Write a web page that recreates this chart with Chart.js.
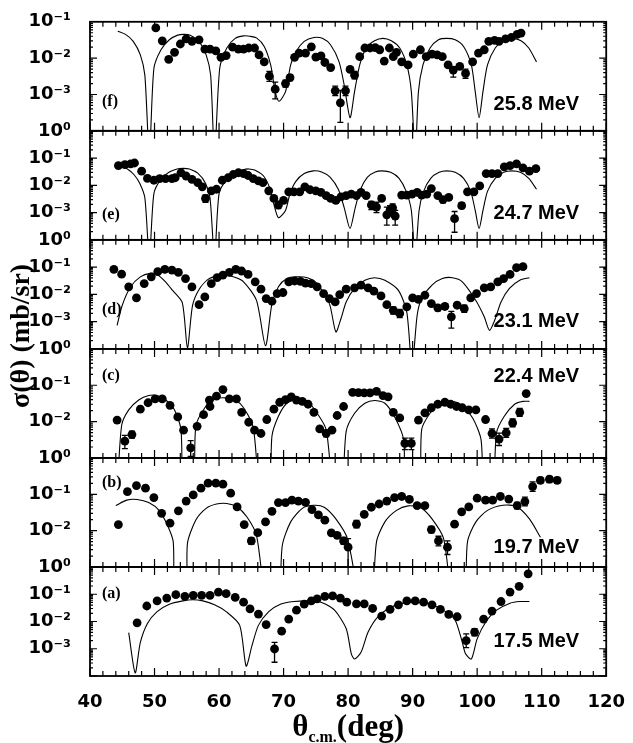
<!DOCTYPE html>
<html>
<head>
<meta charset="utf-8">
<script src="https://cdn.jsdelivr.net/npm/chart.js@4.4.0/dist/chart.umd.min.js"></script>
<style>
  html, body { margin: 0; padding: 0; background: #fff; }
</style>
</head>
<body>
<canvas id="crossSections" width="633" height="743"></canvas>
<script>
// ---- data: angle (deg, c.m.) and sigma (mb/sr) ----
const xTicks = [40, 50, 60, 70, 80, 90, 100, 110, 120];

// (f) 25.8 MeV
const anglesF = [50.2, 51.2, 52.2, 53.1, 54.0, 54.9, 55.8, 56.9, 57.8, 58.6, 59.5, 60.3, 61.1, 62.1, 63.0, 63.8, 64.6, 65.5, 66.2, 67.0, 67.8, 68.7, 70.3, 71.0, 71.7, 72.4, 73.4, 74.3, 75.0, 75.8, 76.4, 77.3, 78.0, 78.8, 79.6, 80.3, 81.0, 81.8, 82.6, 83.4, 84.2, 84.9, 85.6, 86.4, 87.0, 87.5, 88.3, 89.3, 90.1, 91.2, 92.1, 93.0, 93.8, 94.6, 95.5, 96.3, 97.3, 98.2, 99.3, 100.2, 101.1, 101.8, 102.7, 103.4, 104.4, 105.3, 106.2, 106.8];
const sigmaF = [0.068, 0.030, 0.0093, 0.0145, 0.0245, 0.034, 0.029, 0.032, 0.0178, 0.0178, 0.0158, 0.0105, 0.0118, 0.020, 0.0178, 0.0178, 0.019, 0.019, 0.0123, 0.0079, 0.0032, 0.0014, 0.0020, 0.0029, 0.0105, 0.0138, 0.0138, 0.0205, 0.0107, 0.0115, 0.0076, 0.0055, 0.00126, 0.00059, 0.00126, 0.0049, 0.0034, 0.011, 0.019, 0.019, 0.0195, 0.017, 0.0083, 0.019, 0.011, 0.0145, 0.0079, 0.0065, 0.0129, 0.017, 0.011, 0.0129, 0.0123, 0.011, 0.0065, 0.0047, 0.0059, 0.0038, 0.0079, 0.0138, 0.017, 0.029, 0.031, 0.029, 0.034, 0.037, 0.045, 0.049];
const errorsF = [[67.8, 0.0023, 0.0043], [68.7, 0.00076, 0.0022], [70.3, 0.0016, 0.0025], [71.0, 0.0024, 0.0035], [78.0, 0.00093, 0.0017], [78.8, 0.00017, 0.0013], [79.6, 0.00093, 0.0017], [81.0, 0.0027, 0.0043], [96.3, 0.0030, 0.0058], [98.2, 0.0028, 0.0050]];
const curveAnglesF = [44.3, 45.5, 46.7, 47.8, 48.5, 49.2, 49.9, 51.0, 52.3, 53.6, 54.6, 55.6, 56.9, 58.0, 58.7, 59.3, 60.1, 61.2, 62.5, 63.8, 64.8, 65.8, 67.0, 68.0, 68.7, 69.3, 70.3, 71.1, 71.9, 73.2, 74.7, 76.0, 77.3, 78.6, 79.4, 80.3, 81.0, 81.8, 82.8, 84.1, 85.4, 86.7, 88.0, 89.1, 89.8, 90.4, 90.9, 91.6, 92.7, 94.0, 95.3, 96.6, 97.9, 99.1, 99.7, 100.3, 100.9, 101.6, 102.8, 104.2, 105.5, 106.8, 108.0, 109.2];
const curveF = [0.055, 0.045, 0.029, 0.0123, 0.0034, 0.00002, 0.0052, 0.017, 0.032, 0.043, 0.045, 0.042, 0.029, 0.0123, 0.0034, 0.00002, 0.0052, 0.019, 0.035, 0.041, 0.040, 0.036, 0.021, 0.0065, 0.0012, 0.00065, 0.0012, 0.0065, 0.015, 0.029, 0.037, 0.035, 0.023, 0.0079, 0.0018, 0.00023, 0.0012, 0.0065, 0.019, 0.030, 0.035, 0.030, 0.019, 0.0065, 0.0012, 0.00002, 0.0012, 0.0065, 0.019, 0.032, 0.035, 0.032, 0.021, 0.0065, 0.0012, 0.00023, 0.0012, 0.0065, 0.019, 0.032, 0.035, 0.030, 0.019, 0.0079];
const tickValuesF = [1e-4, 1e-3, 1e-2, 1e-1];
const tickLabelsF = ['10⁰', '10⁻³', '10⁻²', '10⁻¹'];

// (e) 24.7 MeV
const anglesE = [44.4, 45.4, 46.3, 46.9, 48.0, 48.9, 49.9, 50.8, 51.7, 52.7, 53.2, 54.1, 54.9, 55.8, 56.7, 57.4, 57.9, 58.8, 59.6, 60.5, 61.4, 62.2, 63.0, 63.8, 64.5, 65.3, 66.1, 66.8, 67.7, 68.5, 69.2, 70.0, 70.8, 71.6, 72.5, 73.3, 74.1, 75.0, 75.8, 76.6, 77.3, 78.1, 78.9, 79.7, 80.5, 81.3, 82.0, 82.8, 83.6, 84.4, 85.2, 86.0, 86.5, 86.9, 87.3, 88.3, 89.1, 89.9, 90.7, 91.4, 92.2, 92.9, 93.9, 94.7, 95.6, 96.5, 97.6, 98.5, 99.5, 100.4, 101.4, 102.3, 103.2, 104.2, 105.1, 106.1, 107.1, 108.1, 109.1];
const sigmaE = [0.053, 0.058, 0.061, 0.066, 0.033, 0.018, 0.0154, 0.0177, 0.0177, 0.0177, 0.019, 0.029, 0.022, 0.0166, 0.0126, 0.0088, 0.0033, 0.0063, 0.0072, 0.0154, 0.019, 0.025, 0.029, 0.027, 0.023, 0.0177, 0.0145, 0.0126, 0.0063, 0.0033, 0.0019, 0.0028, 0.0058, 0.0058, 0.0058, 0.0088, 0.0069, 0.0063, 0.0055, 0.0042, 0.0033, 0.0028, 0.0038, 0.0042, 0.0048, 0.0042, 0.0055, 0.0042, 0.0019, 0.0016, 0.0033, 0.00083, 0.0012, 0.0015, 0.00075, 0.0044, 0.0044, 0.0048, 0.0055, 0.0044, 0.0048, 0.0076, 0.0042, 0.0030, 0.0036, 0.0006, 0.0018, 0.0058, 0.0058, 0.0095, 0.027, 0.027, 0.027, 0.048, 0.053, 0.061, 0.044, 0.033, 0.041];
const errorsE = [[57.9, 0.0024, 0.0045], [69.2, 0.0014, 0.0026], [78.1, 0.0022, 0.0034], [83.6, 0.0013, 0.0026], [84.4, 0.0010, 0.0024], [86.0, 0.00035, 0.0016], [86.5, 0.0008, 0.0018], [86.9, 0.0010, 0.0021], [87.3, 0.00035, 0.0012], [94.7, 0.0023, 0.0038], [96.5, 0.00019, 0.0011], [97.6, 0.0014, 0.0023], [108.1, 0.028, 0.039]];
const curveAnglesE = [44.6, 45.8, 46.8, 47.7, 48.5, 49.2, 49.9, 51.0, 52.3, 53.5, 54.4, 55.4, 56.7, 57.9, 58.6, 59.3, 60.0, 61.2, 62.5, 63.8, 64.6, 65.6, 66.9, 67.9, 68.5, 69.2, 70.3, 71.0, 71.9, 73.2, 74.6, 75.9, 77.2, 78.5, 79.4, 80.3, 81.1, 81.9, 83.0, 84.2, 85.3, 86.6, 87.9, 89.0, 89.8, 90.4, 91.0, 91.7, 92.8, 94.1, 95.3, 96.6, 97.9, 99.0, 99.7, 100.3, 100.9, 101.6, 102.8, 104.1, 105.4, 106.7, 108.0, 109.2];
const curveE = [0.055, 0.040, 0.025, 0.012, 0.0035, 0.00002, 0.005, 0.017, 0.031, 0.040, 0.042, 0.040, 0.028, 0.012, 0.0035, 0.00002, 0.005, 0.017, 0.031, 0.038, 0.040, 0.036, 0.022, 0.0075, 0.002, 0.00065, 0.0012, 0.005, 0.014, 0.027, 0.034, 0.031, 0.020, 0.007, 0.0015, 0.00026, 0.0015, 0.007, 0.020, 0.031, 0.034, 0.030, 0.018, 0.006, 0.0012, 0.00002, 0.0012, 0.006, 0.018, 0.030, 0.034, 0.030, 0.018, 0.006, 0.0012, 0.00026, 0.0012, 0.006, 0.018, 0.030, 0.034, 0.030, 0.018, 0.0072];
const tickValuesE = [1e-4, 1e-3, 1e-2, 1e-1];
const tickLabelsE = ['10⁰', '10⁻³', '10⁻²', '10⁻¹'];

// (d) 23.1 MeV
const anglesD = [43.7, 44.9, 46.0, 47.2, 48.4, 49.5, 50.5, 51.6, 52.7, 53.7, 54.8, 55.8, 56.9, 57.8, 58.8, 59.7, 60.6, 61.6, 62.6, 63.5, 64.5, 65.6, 66.5, 67.3, 68.2, 69.0, 69.9, 70.8, 71.7, 72.6, 73.4, 74.3, 75.2, 76.2, 77.1, 78.0, 78.7, 79.7, 81.0, 82.0, 83.1, 84.0, 85.1, 86.0, 87.0, 88.0, 89.1, 90.0, 90.9, 91.9, 92.9, 93.9, 95.0, 96.0, 96.9, 98.0, 99.0, 99.9, 101.1, 102.1, 103.2, 104.1, 105.1, 106.1, 107.1];
const sigmaD = [0.083, 0.055, 0.019, 0.0074, 0.025, 0.044, 0.068, 0.083, 0.078, 0.064, 0.038, 0.019, 0.0042, 0.0081, 0.025, 0.041, 0.051, 0.064, 0.083, 0.072, 0.054, 0.029, 0.0155, 0.0070, 0.0056, 0.0107, 0.0117, 0.029, 0.031, 0.030, 0.026, 0.025, 0.019, 0.0107, 0.0070, 0.0053, 0.0098, 0.0155, 0.0174, 0.022, 0.0174, 0.0131, 0.0088, 0.0042, 0.0026, 0.0020, 0.0035, 0.0074, 0.0066, 0.0093, 0.0046, 0.0032, 0.0036, 0.0015, 0.0040, 0.0030, 0.0074, 0.0107, 0.0174, 0.019, 0.029, 0.038, 0.054, 0.095, 0.104];
const errorsD = [[87.0, 0.0019, 0.0035], [88.0, 0.0014, 0.0028], [93.9, 0.0025, 0.0040], [95.0, 0.0028, 0.0045], [96.0, 0.00058, 0.0024], [98.0, 0.0022, 0.0040]];
const curveAnglesD = [44.2, 45.0, 46.3, 47.8, 49.4, 50.4, 51.7, 52.8, 54.3, 55.1, 55.9, 57.0, 58.5, 60.6, 62.2, 63.8, 65.8, 67.2, 68.2, 69.2, 70.5, 72.0, 73.7, 75.2, 77.1, 78.1, 78.9, 79.7, 81.0, 82.6, 84.1, 85.7, 87.8, 89.1, 89.9, 90.7, 91.4, 93.0, 94.6, 96.2, 97.7, 99.8, 101.1, 101.9, 102.7, 103.7, 105.0, 106.6, 108.1];
const curveD = [0.00073, 0.004, 0.019, 0.044, 0.059, 0.054, 0.029, 0.014, 0.005, 0.00011, 0.004, 0.0165, 0.038, 0.051, 0.044, 0.029, 0.006, 0.00013, 0.0046, 0.019, 0.038, 0.044, 0.041, 0.025, 0.0046, 0.00042, 0.0013, 0.0053, 0.0165, 0.033, 0.041, 0.033, 0.014, 0.0022, 0.00002, 0.0017, 0.007, 0.022, 0.038, 0.041, 0.029, 0.006, 0.0015, 0.00048, 0.0011, 0.0053, 0.0165, 0.033, 0.041];
const tickValuesD = [1e-4, 1e-3, 1e-2, 1e-1];
const tickLabelsD = ['10⁰', '10⁻³', '10⁻²', '10⁻¹'];

// (c) 22.4 MeV
const anglesC = [44.2, 45.4, 46.5, 47.8, 49.0, 50.1, 51.2, 52.4, 53.6, 54.5, 55.6, 56.6, 57.6, 58.5, 58.6, 59.6, 60.6, 61.6, 62.7, 63.5, 64.6, 65.5, 66.5, 67.4, 68.5, 69.4, 70.3, 71.2, 72.0, 72.9, 73.8, 74.7, 75.6, 76.6, 77.5, 78.3, 79.3, 80.7, 81.6, 82.5, 83.4, 84.4, 85.4, 86.2, 87.0, 88.0, 88.8, 89.8, 90.9, 91.9, 92.9, 93.9, 95.0, 95.9, 96.8, 97.7, 98.7, 99.8, 101.3, 102.3, 103.4, 104.5, 105.5, 106.6, 107.6];
const sigmaC = [0.011, 0.0029, 0.0044, 0.022, 0.033, 0.042, 0.042, 0.028, 0.0134, 0.0058, 0.0019, 0.0074, 0.0155, 0.039, 0.026, 0.050, 0.076, 0.042, 0.042, 0.018, 0.0096, 0.0058, 0.0047, 0.0114, 0.022, 0.034, 0.040, 0.048, 0.039, 0.036, 0.030, 0.018, 0.0063, 0.0047, 0.0058, 0.0147, 0.026, 0.064, 0.063, 0.062, 0.062, 0.068, 0.052, 0.048, 0.018, 0.0126, 0.0025, 0.0025, 0.011, 0.0174, 0.024, 0.030, 0.034, 0.030, 0.026, 0.024, 0.021, 0.021, 0.0114, 0.0047, 0.0033, 0.0049, 0.0092, 0.018, 0.059];
const errorsC = [[45.4, 0.0018, 0.0042], [46.5, 0.0035, 0.0055], [55.6, 0.0011, 0.0030], [76.6, 0.0038, 0.0058], [88.8, 0.0017, 0.0035], [89.8, 0.0017, 0.0035], [102.3, 0.0035, 0.0063], [103.4, 0.0022, 0.0048], [104.5, 0.0037, 0.0065], [105.5, 0.0072, 0.0118], [106.6, 0.014, 0.023]];
const curveAnglesC = [44.2, 44.9, 46.0, 47.6, 49.1, 50.4, 51.7, 53.1, 54.1, 54.5, 56.0, 56.4, 57.8, 59.3, 60.9, 62.5, 63.8, 65.3, 66.4, 67.8, 68.2, 69.2, 70.5, 72.1, 73.7, 75.2, 76.6, 77.8, 79.0, 79.7, 81.0, 82.6, 84.1, 85.7, 87.3, 88.6, 89.0, 91.0, 91.4, 92.7, 94.3, 95.9, 97.4, 99.3, 100.6, 101.1, 102.4, 103.0, 104.2, 105.8, 107.1, 108.1];
const curveC = [0.0001, 0.0078, 0.021, 0.040, 0.052, 0.052, 0.040, 0.021, 0.006, 0.0001, 0.0001, 0.0074, 0.024, 0.041, 0.045, 0.039, 0.024, 0.0068, 0.0001, 0.0001, 0.004, 0.014, 0.032, 0.041, 0.036, 0.017, 0.006, 0.0001, 0.0001, 0.0054, 0.017, 0.032, 0.038, 0.032, 0.0126, 0.0032, 0.0001, 0.0001, 0.006, 0.017, 0.032, 0.036, 0.030, 0.0126, 0.0032, 0.0001, 0.0001, 0.0049, 0.014, 0.030, 0.036, 0.036];
const tickValuesC = [1e-3, 1e-2, 1e-1];
const tickLabelsC = ['10⁰', '10⁻²', '10⁻¹'];

// (b) 19.7 MeV
const anglesB = [44.4, 45.8, 47.2, 48.6, 49.9, 51.1, 52.4, 53.7, 54.9, 56.0, 57.2, 58.3, 59.5, 60.6, 61.8, 62.8, 63.9, 65.0, 66.0, 67.2, 68.2, 69.2, 70.3, 71.3, 72.3, 73.4, 74.4, 75.4, 76.4, 77.4, 78.3, 79.3, 80.0, 81.3, 82.5, 83.6, 84.8, 86.0, 87.2, 88.3, 89.5, 90.7, 91.9, 92.9, 94.0, 95.4, 96.5, 97.6, 98.7, 100.0, 101.3, 102.4, 103.6, 104.9, 106.2, 107.4, 108.6, 109.8, 111.2, 112.4];
const sigmaB = [0.0147, 0.118, 0.174, 0.147, 0.081, 0.030, 0.016, 0.035, 0.065, 0.096, 0.147, 0.203, 0.203, 0.19, 0.107, 0.045, 0.0147, 0.0052, 0.0088, 0.0174, 0.034, 0.059, 0.059, 0.069, 0.065, 0.060, 0.038, 0.027, 0.0194, 0.0087, 0.0074, 0.0052, 0.0035, 0.015, 0.028, 0.044, 0.054, 0.065, 0.081, 0.087, 0.072, 0.049, 0.049, 0.0107, 0.0052, 0.0035, 0.015, 0.033, 0.045, 0.078, 0.069, 0.069, 0.087, 0.074, 0.049, 0.063, 0.163, 0.24, 0.26, 0.24];
const errorsB = [[65.0, 0.0042, 0.0064], [79.3, 0.0042, 0.0065], [80.0, 0.001, 0.0060], [81.3, 0.012, 0.019], [92.9, 0.0087, 0.013], [94.0, 0.0038, 0.0070], [95.4, 0.0022, 0.0052], [106.2, 0.040, 0.060], [107.4, 0.048, 0.083], [108.6, 0.12, 0.22], [109.8, 0.20, 0.29], [111.2, 0.21, 0.31], [112.4, 0.20, 0.29]];
const curveAnglesB = [44.0, 45.7, 47.3, 49.1, 50.7, 52.0, 52.9, 53.2, 54.9, 55.1, 56.4, 58.0, 59.6, 61.2, 62.7, 64.3, 65.8, 67.4, 69.2, 69.8, 71.1, 72.9, 74.7, 76.3, 78.1, 79.9, 82.0, 83.6, 84.4, 85.7, 87.5, 89.3, 91.2, 93.0, 94.8, 96.3, 98.0, 98.5, 99.8, 101.6, 104.0, 106.1, 108.1, 109.8];
const curveB = [0.049, 0.069, 0.072, 0.059, 0.036, 0.014, 0.0049, 0.0001, 0.0001, 0.0044, 0.0195, 0.041, 0.054, 0.056, 0.046, 0.024, 0.0074, 0.0001, 0.0001, 0.0039, 0.0174, 0.041, 0.050, 0.044, 0.021, 0.006, 0.0001, 0.0001, 0.0049, 0.0174, 0.036, 0.048, 0.043, 0.021, 0.006, 0.0001, 0.0001, 0.0049, 0.0174, 0.036, 0.050, 0.046, 0.021, 0.0066];
const tickValuesB = [1e-3, 1e-2, 1e-1];
const tickLabelsB = ['10⁰', '10⁻²', '10⁻¹'];

// (a) 17.5 MeV
const anglesA = [47.3, 48.8, 50.4, 51.9, 53.3, 54.7, 56.0, 57.3, 58.6, 59.9, 61.1, 62.5, 63.8, 64.8, 66.1, 67.3, 68.6, 69.7, 70.8, 72.0, 73.2, 74.3, 75.2, 76.4, 77.6, 78.8, 79.8, 81.3, 82.5, 83.8, 85.2, 86.5, 87.8, 89.1, 90.4, 91.7, 93.0, 94.3, 95.6, 96.9, 98.3, 99.6, 101.0, 102.3, 103.7, 105.1, 106.5, 107.9];
const sigmaA = [0.0089, 0.037, 0.057, 0.072, 0.096, 0.083, 0.091, 0.091, 0.091, 0.12, 0.105, 0.076, 0.051, 0.029, 0.0187, 0.0077, 0.00098, 0.0044, 0.0123, 0.026, 0.043, 0.057, 0.068, 0.083, 0.087, 0.072, 0.051, 0.044, 0.044, 0.030, 0.0158, 0.028, 0.041, 0.057, 0.057, 0.051, 0.041, 0.028, 0.0182, 0.0149, 0.0020, 0.0041, 0.0123, 0.024, 0.054, 0.12, 0.195, 0.56];
const errorsA = [[68.6, 0.00032, 0.0017], [69.7, 0.0037, 0.0052], [98.3, 0.0011, 0.0035], [99.6, 0.0030, 0.0055]];
const curveAnglesA = [46.0, 47.0, 47.8, 48.9, 50.4, 52.3, 54.4, 55.9, 57.5, 59.3, 61.1, 63.2, 64.2, 65.1, 66.1, 67.7, 69.5, 71.6, 74.0, 75.8, 77.9, 79.7, 80.5, 81.0, 82.0, 83.1, 84.6, 86.5, 88.5, 90.9, 93.0, 95.1, 96.6, 97.7, 98.2, 99.1, 100.0, 101.4, 103.0, 105.1, 106.6, 108.1];
const curveA = [0.0039, 0.00013, 0.0017, 0.0085, 0.023, 0.043, 0.057, 0.063, 0.057, 0.041, 0.023, 0.0072, 0.00023, 0.0013, 0.0072, 0.023, 0.043, 0.054, 0.057, 0.051, 0.026, 0.0055, 0.00065, 0.00042, 0.00074, 0.0041, 0.0148, 0.032, 0.047, 0.051, 0.041, 0.023, 0.0112, 0.0017, 0.00065, 0.00042, 0.0023, 0.0102, 0.026, 0.047, 0.054, 0.054];
const tickValuesA = [1e-3, 1e-2, 1e-1];
const tickLabelsA = ['10⁻³', '10⁻²', '10⁻¹'];

// panels from top to bottom
const panels = [
  { id: 'yf', tag: '(f)', energy: '25.8 MeV', min: 1e-4, max: 1e-1, tickValues: tickValuesF, tickLabels: tickLabelsF, angles: anglesF, sigma: sigmaF, errors: errorsF, curveAngles: curveAnglesF, curve: curveF, tagAt: 0.73, energyAt: 0.76 },
  { id: 'ye', tag: '(e)', energy: '24.7 MeV', min: 1e-4, max: 1, tickValues: tickValuesE, tickLabels: tickLabelsE, angles: anglesE, sigma: sigmaE, errors: errorsE, curveAngles: curveAnglesE, curve: curveE, tagAt: 0.77, energyAt: 0.76 },
  { id: 'yd', tag: '(d)', energy: '23.1 MeV', min: 1e-4, max: 1, tickValues: tickValuesD, tickLabels: tickLabelsD, angles: anglesD, sigma: sigmaD, errors: errorsD, curveAngles: curveAnglesD, curve: curveD, tagAt: 0.64, energyAt: 0.75 },
  { id: 'yc', tag: '(c)', energy: '22.4 MeV', min: 1e-3, max: 1, tickValues: tickValuesC, tickLabels: tickLabelsC, angles: anglesC, sigma: sigmaC, errors: errorsC, curveAngles: curveAnglesC, curve: curveC, tagAt: 0.25, energyAt: 0.25 },
  { id: 'yb', tag: '(b)', energy: '19.7 MeV', min: 1e-3, max: 1, tickValues: tickValuesB, tickLabels: tickLabelsB, angles: anglesB, sigma: sigmaB, errors: errorsB, curveAngles: curveAnglesB, curve: curveB, tagAt: 0.23, energyAt: 0.82 },
  { id: 'ya', tag: '(a)', energy: '17.5 MeV', min: 1e-4, max: 1, tickValues: tickValuesA, tickLabels: tickLabelsA, angles: anglesA, sigma: sigmaA, errors: errorsA, curveAngles: curveAnglesA, curve: curveA, tagAt: 0.25, energyAt: 0.685 }
];

const toPoints = (xs, ys) => xs.map((x, i) => ({ x: x, y: ys[i] }));

const datasets = [];
panels.forEach(p => {
  datasets.push({
    label: p.tag + ' calc', yAxisID: p.id, data: toPoints(p.curveAngles, p.curve),
    showLine: true, pointRadius: 0, borderColor: '#000', borderWidth: 1.1, tension: 0.25, fill: false
  });
  datasets.push({
    label: p.tag + ' exp', yAxisID: p.id, data: toPoints(p.angles, p.sigma),
    showLine: false, pointRadius: 4.4, pointBackgroundColor: '#000', pointBorderWidth: 0
  });
});

const scales = {
  x: {
    type: 'linear', min: 40, max: 120,
    afterBuildTicks: s => { s.ticks = xTicks.map(v => ({ value: v })); },
    ticks: { color: '#000', padding: 8, maxRotation: 0, font: { family: 'DejaVu Sans', weight: 'bold', size: 18 } },
    grid: { display: false }, border: { display: false },
    afterFit: s => { s.height = 67; }
  }
};
// bottom panel first: the last stacked axis ends up on top
panels.slice().reverse().forEach(p => {
  scales[p.id] = {
    type: 'logarithmic', position: 'left', stack: 'panels', stackWeight: 1,
    min: p.min, max: p.max,
    afterBuildTicks: s => { s.ticks = p.tickValues.map(v => ({ value: v })); },
    ticks: {
      autoSkip: false, padding: 11, color: '#000',
      font: { family: 'DejaVu Sans', weight: 'bold', size: 18 },
      callback: v => {
        const i = p.tickValues.findIndex(t => Math.abs(t - v) < t * 1e-6);
        return i >= 0 ? p.tickLabels[i] : '';
      }
    },
    grid: { display: false }, border: { display: false },
    afterFit: s => { s.width = 90; }
  };
});

// frames, inward ticks, error bars, panel labels and axis titles
const panelDecor = {
  id: 'panelDecor',
  beforeDatasetDraw(chart, args) {
    const ys = chart.scales[chart.data.datasets[args.index].yAxisID];
    const area = chart.chartArea;
    chart.ctx.save();
    chart.ctx.beginPath();
    chart.ctx.rect(area.left, ys.top, area.right - area.left, ys.bottom - ys.top);
    chart.ctx.clip();
  },
  afterDatasetDraw(chart) {
    chart.ctx.restore();
  },
  afterDraw(chart) {
    const ctx = chart.ctx;
    const xs = chart.scales.x;
    const area = chart.chartArea;
    ctx.save();
    ctx.strokeStyle = '#000';
    ctx.fillStyle = '#000';
    panels.forEach(p => {
      const ys = chart.scales[p.id];
      const top = ys.top, bottom = ys.bottom, h = bottom - top;

      ctx.lineWidth = 1.3;
      ctx.beginPath();
      p.errors.forEach(([a, lo, hi]) => {
        const px = xs.getPixelForValue(a);
        const y1 = Math.min(ys.getPixelForValue(lo), bottom);
        const y2 = ys.getPixelForValue(hi);
        ctx.moveTo(px, y1); ctx.lineTo(px, y2);
        ctx.moveTo(px - 3, y1); ctx.lineTo(px + 3, y1);
        ctx.moveTo(px - 3, y2); ctx.lineTo(px + 3, y2);
      });
      ctx.stroke();

      ctx.lineWidth = 1.2;
      ctx.beginPath();
      for (let a = 40; a <= 120; a += 2) {
        const px = xs.getPixelForValue(a);
        const len = a % 10 === 0 ? 8 : 5;
        ctx.moveTo(px, top); ctx.lineTo(px, top + len);
        ctx.moveTo(px, bottom); ctx.lineTo(px, bottom - len);
      }
      const e0 = Math.round(Math.log10(p.min)), e1 = Math.round(Math.log10(p.max));
      for (let e = e0; e < e1; e++) {
        for (let m = 1; m < 10; m++) {
          const py = ys.getPixelForValue(m * Math.pow(10, e));
          const len = m === 1 ? 7 : 3;
          ctx.moveTo(area.left, py); ctx.lineTo(area.left + len, py);
          ctx.moveTo(area.right, py); ctx.lineTo(area.right - len, py);
        }
      }
      ctx.stroke();

      ctx.lineWidth = 1.8;
      ctx.strokeRect(area.left, top, area.right - area.left, h);

      ctx.textBaseline = 'middle';
      ctx.textAlign = 'left';
      ctx.font = 'bold 16px "Liberation Serif"';
      ctx.fillText(p.tag, area.left + 12, top + h * p.tagAt);
      ctx.textAlign = 'right';
      ctx.font = 'bold 20px "Liberation Sans"';
      ctx.fillText(p.energy, area.right - 27, top + h * p.energyAt);
    });

    // y title
    ctx.save();
    ctx.translate(22, (area.top + area.bottom) / 2 - 13);
    ctx.rotate(-Math.PI / 2);
    ctx.textAlign = 'center';
    ctx.textBaseline = 'middle';
    ctx.font = 'bold 28px "Liberation Serif"';
    ctx.fillText('σ(θ) (mb/sr)', 0, 0);
    ctx.restore();

    // x title with subscript
    const parts = [['θ', 31, 0], ['c.m.', 16, 6], ['(deg)', 31, 0]];
    let total = 0;
    parts.forEach(pt => { ctx.font = 'bold ' + pt[1] + 'px "Liberation Serif"'; pt.push(ctx.measureText(pt[0]).width); total += pt[3]; });
    let x = (area.left + area.right) / 2 - total / 2;
    const base = area.bottom + 60;
    ctx.textAlign = 'left';
    ctx.textBaseline = 'alphabetic';
    parts.forEach(pt => {
      ctx.font = 'bold ' + pt[1] + 'px "Liberation Serif"';
      ctx.fillText(pt[0], x, base + pt[2]);
      x += pt[3];
    });
    ctx.restore();
  }
};

const ctx = document.getElementById('crossSections').getContext('2d');
const crossSectionChart = new Chart(ctx, {
  type: 'scatter',
  data: { datasets: datasets },
  options: {
    responsive: false,
    animation: false,
    events: [],
    layout: { padding: { top: 17, right: 20, bottom: 0, left: 0 } },
    plugins: { legend: { display: false }, tooltip: { enabled: false } },
    scales: scales
  },
  plugins: [panelDecor]
});
</script>
</body>
</html>
